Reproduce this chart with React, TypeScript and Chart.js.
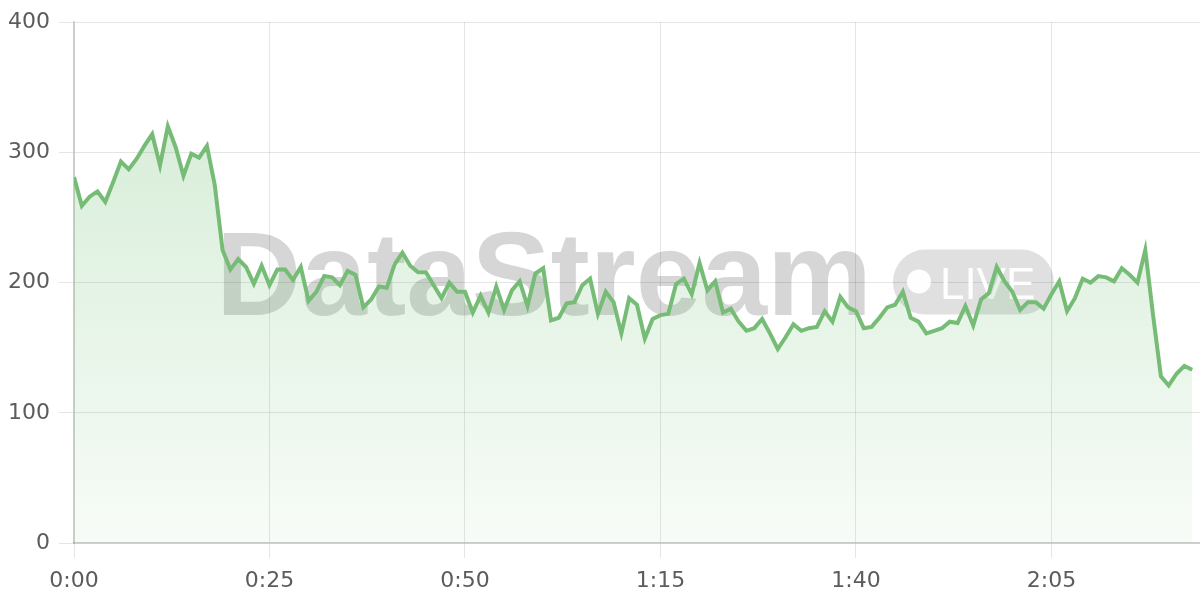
import React, { useEffect, useRef } from "react";
import { Chart, registerables } from "chart.js";

Chart.register(...registerables);

// seconds since start (one sample per second)
const seconds: number[] = Array.from({ length: 144 }, (_, i) => i);

const values: number[] = [
  281, 259, 266, 270, 262, 277, 293, 287, 295, 305,
  314, 290, 320, 304, 282, 299, 296, 305, 275, 225,
  210, 218, 212, 199, 213, 198, 210, 210, 202, 212,
  186, 193, 205, 204, 198, 209, 206, 181, 187, 197,
  196, 214, 223, 213, 208, 208, 198, 188, 200, 193,
  193, 177, 190, 177, 197, 179, 194, 201, 182, 207,
  211, 171, 173, 184, 185, 198, 203, 176, 193, 185,
  161, 188, 183, 157, 172, 175, 176, 199, 203, 191,
  215, 194, 201, 177, 180, 170, 163, 165, 172, 161,
  149, 158, 168, 163, 165, 166, 178, 170, 189, 181,
  178, 165, 166, 173, 181, 183, 193, 173, 170, 161,
  163, 165, 170, 169, 182, 167, 187, 192, 212, 201,
  193, 179, 185, 185, 180, 191, 201, 178, 188, 203,
  200, 205, 204, 201, 211, 206, 200, 225, 175, 128,
  121, 130, 136, 133,
];

const yTicks: number[] = [0, 100, 200, 300, 400];
const xTickStep = 25;
const watermarkText = "DataStream";
const badgeText = "LIVE";

const fmt = (v: number) =>
  `${Math.floor(v / 60)}:${String(Math.round(v % 60)).padStart(2, "0")}`;

const watermarkPlugin = {
  id: "watermark",
  beforeDatasetsDraw(chart: any) {
    const { ctx, chartArea } = chart;
    if (!chartArea) return;
    const cx = (chartArea.left + chartArea.right) / 2 - 2;
    const cy = (chartArea.top + chartArea.bottom) / 2;
    ctx.save();
    ctx.font = 'bold 118px "Liberation Sans", Arial, sans-serif';
    const tw = ctx.measureText(watermarkText).width;
    const pillW = 161;
    const pillH = 65;
    const gap = 21;
    const total = tw + gap + pillW;
    const x0 = cx - total / 2;
    ctx.fillStyle = "rgba(0,0,0,0.16)";
    ctx.textBaseline = "alphabetic";
    ctx.textAlign = "left";
    ctx.fillText(watermarkText, x0, cy + 32);
    // pill
    const px = x0 + tw + gap;
    const py = cy - 33;
    const r = pillH / 2;
    ctx.beginPath();
    ctx.moveTo(px + r, py);
    ctx.lineTo(px + pillW - r, py);
    ctx.arc(px + pillW - r, py + r, r, -Math.PI / 2, Math.PI / 2);
    ctx.lineTo(px + r, py + pillH);
    ctx.arc(px + r, py + r, r, Math.PI / 2, (3 * Math.PI) / 2);
    ctx.closePath();
    ctx.fillStyle = "rgba(0,0,0,0.12)";
    ctx.fill();
    ctx.fillStyle = "rgba(255,255,255,0.95)";
    ctx.beginPath();
    ctx.arc(px + 26, py + 32, 12, 0, Math.PI * 2);
    ctx.fill();
    ctx.font = '500 44px "Liberation Sans", Arial, sans-serif';
    ctx.fillText(badgeText, px + 47, cy + 16);
    ctx.restore();
  },
};

export default function App() {
  const ref = useRef<HTMLCanvasElement | null>(null);

  useEffect(() => {
    document.body.style.margin = "0";
    if (!ref.current) return;
    const chart = new Chart(ref.current, {
      type: "line",
      data: {
        datasets: [
          {
            data: seconds.map((s, i) => ({ x: s, y: values[i] })),
            borderColor: "#76bc76",
            borderWidth: 4,
            pointRadius: 0,
            pointHoverRadius: 0,
            tension: 0,
            fill: true,
            backgroundColor: (c: any) => {
              const { chart } = c;
              const area = chart.chartArea;
              if (!area) return "rgba(102,187,106,0.15)";
              const g = chart.ctx.createLinearGradient(0, area.top, 0, area.bottom);
              g.addColorStop(0, "rgba(102,187,106,0.30)");
              g.addColorStop(1, "rgba(102,187,106,0.05)");
              return g;
            },
          },
        ],
      },
      options: {
        responsive: false,
        animation: false,
        layout: { padding: { top: 19, right: 0, left: 0, bottom: 0 } },
        plugins: {
          legend: { display: false },
          tooltip: { enabled: false },
        },
        scales: {
          x: {
            type: "linear",
            min: 0,
            max: 144,
            afterFit: (s: any) => {
              s.height = 57;
            },
            ticks: {
              stepSize: xTickStep,
              includeBounds: false,
              padding: 10,
              maxRotation: 0,
              color: "#5c5c5c",
              font: { family: '"DejaVu Sans", sans-serif', size: 22 },
              callback: (v: any) => fmt(Number(v)),
            },
            grid: { color: "rgba(0,0,0,0.1)", tickLength: 15 },
            border: { color: "rgba(0,0,0,0.2)", width: 1.5 },
          },
          y: {
            min: 0,
            max: 400,
            afterFit: (s: any) => {
              s.width = 74;
            },
            afterBuildTicks: (s: any) => {
              s.ticks = yTicks.map((v) => ({ value: v }));
            },
            ticks: {
              padding: 9,
              color: "#5c5c5c",
              font: { family: '"DejaVu Sans", sans-serif', size: 22 },
            },
            grid: { color: "rgba(0,0,0,0.1)", tickLength: 15 },
            border: { color: "rgba(0,0,0,0.2)", width: 1.5 },
          },
        },
      },
      plugins: [watermarkPlugin],
    });
    return () => chart.destroy();
  }, []);

  return (
    <div style={{ position: "fixed", left: 0, top: 0, width: 1200, height: 600 }}>
      <canvas ref={ref} width={1200} height={600} style={{ display: "block" }} />
    </div>
  );
}
